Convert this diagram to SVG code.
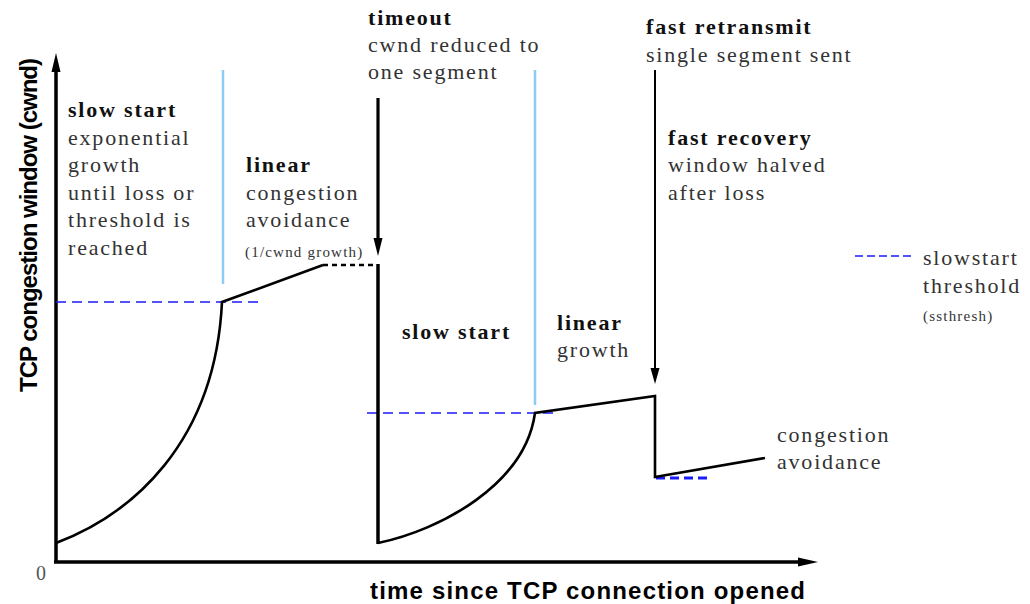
<svg xmlns="http://www.w3.org/2000/svg" width="1030" height="604" viewBox="0 0 1030 604">
<style>
.t{font-family:"Liberation Serif","Times New Roman",serif;font-size:22px;letter-spacing:1.8px;fill:#333}
.b{font-weight:bold;fill:#111}
.s{font-family:"Liberation Serif","Times New Roman",serif;font-size:15px;letter-spacing:1.2px;fill:#333}
.ax{font-family:"Liberation Sans",Arial,sans-serif;font-size:24px;font-weight:bold;fill:#000}
.curve{fill:none;stroke:#000;stroke-width:2.6;stroke-linejoin:miter}
.sep{stroke:#8ccbf5;stroke-width:2.5}
.th{stroke:#1a1aff;stroke-width:1.6;stroke-dasharray:10 6;fill:none}
</style>
<rect width="1030" height="604" fill="#fff"/>
<g id="axes">
<line x1="56" y1="563" x2="56" y2="70" stroke="#000" stroke-width="3.5"/>
<polygon points="56,53 60.5,72 51.5,72" fill="#000"/>
<line x1="54" y1="562" x2="800" y2="562" stroke="#000" stroke-width="3.5"/>
<polygon points="818,562 798,557.5 798,566.5" fill="#000"/>
<text x="41" y="580" text-anchor="middle" style="font-family:'Liberation Serif',serif;font-size:20px;fill:#555">0</text>
<text class="ax" transform="translate(37,225) rotate(-90)" text-anchor="middle" textLength="334" lengthAdjust="spacing">TCP congestion window (cwnd)</text>
<text class="ax" x="370" y="599" textLength="435" lengthAdjust="spacing">time since TCP connection opened</text>
</g>
<g id="separators">
<line class="sep" x1="223" y1="70" x2="223" y2="284"/>
<line class="sep" x1="535" y1="70" x2="535" y2="405"/>
</g>
<g id="thresholds">
<line class="th" x1="56" y1="302" x2="258" y2="302"/>
<line class="th" x1="367" y1="413" x2="558" y2="413"/>
<line x1="656" y1="478" x2="710" y2="478" stroke="#1a1aff" stroke-width="3" stroke-dasharray="9 5"/>
<line x1="855" y1="256" x2="912" y2="256" stroke="#1a1aff" stroke-width="1.6" stroke-dasharray="8 4"/>
</g>
<g id="cwnd">
<path class="curve" d="M56,543 C130,515 215,445 222,302 L323,265"/>
<line x1="323" y1="265" x2="376" y2="265" stroke="#000" stroke-width="2.6" stroke-dasharray="5 4"/>
<line x1="378" y1="264" x2="378" y2="544" stroke="#000" stroke-width="3.5"/>
<path class="curve" d="M378,543 C440,530 525,485 535,413 L655,396 L655,477 L765,458"/>
</g>
<g id="connectors">
<line x1="378" y1="98" x2="378" y2="242" stroke="#000" stroke-width="3.2"/>
<polygon points="378,256 373.5,238 382.5,238" fill="#000"/>
<line x1="655" y1="70" x2="655" y2="370" stroke="#000" stroke-width="2"/>
<polygon points="655,384 650.5,368 659.5,368" fill="#000"/>
</g>
<g id="slowstart1">
<text class="t b" x="68" y="117">slow start</text>
<text class="t" x="68" y="145">exponential</text>
<text class="t" x="68" y="172">growth</text>
<text class="t" x="68" y="199.5">until loss or</text>
<text class="t" x="68" y="227">threshold is</text>
<text class="t" x="68" y="254.5">reached</text>
</g>
<g id="linear1">
<text class="t b" x="246" y="172">linear</text>
<text class="t" x="246" y="199.5">congestion</text>
<text class="t" x="246" y="227">avoidance</text>
<text class="s" x="245" y="257">(1/cwnd growth)</text>
</g>
<g id="timeout">
<text class="t b" x="368" y="25">timeout</text>
<text class="t" x="368" y="52">cwnd reduced to</text>
<text class="t" x="368" y="79">one segment</text>
</g>
<g id="fastretransmit">
<text class="t b" x="646" y="34">fast retransmit</text>
<text class="t" x="646" y="62">single segment sent</text>
</g>
<g id="fastrecovery">
<text class="t b" x="668" y="145">fast recovery</text>
<text class="t" x="668" y="172">window halved</text>
<text class="t" x="668" y="200">after loss</text>
</g>
<g id="legend">
<text class="t" x="923" y="265">slowstart</text>
<text class="t" x="923" y="293">threshold</text>
<text class="s" x="923" y="321">(ssthresh)</text>
</g>
<g id="slowstart2">
<text class="t b" x="402" y="339">slow start</text>
</g>
<g id="linear2">
<text class="t b" x="557" y="330">linear</text>
<text class="t" x="557" y="357">growth</text>
</g>
<g id="congavoid">
<text class="t" x="777" y="442">congestion</text>
<text class="t" x="777" y="469">avoidance</text>
</g>
</svg>
